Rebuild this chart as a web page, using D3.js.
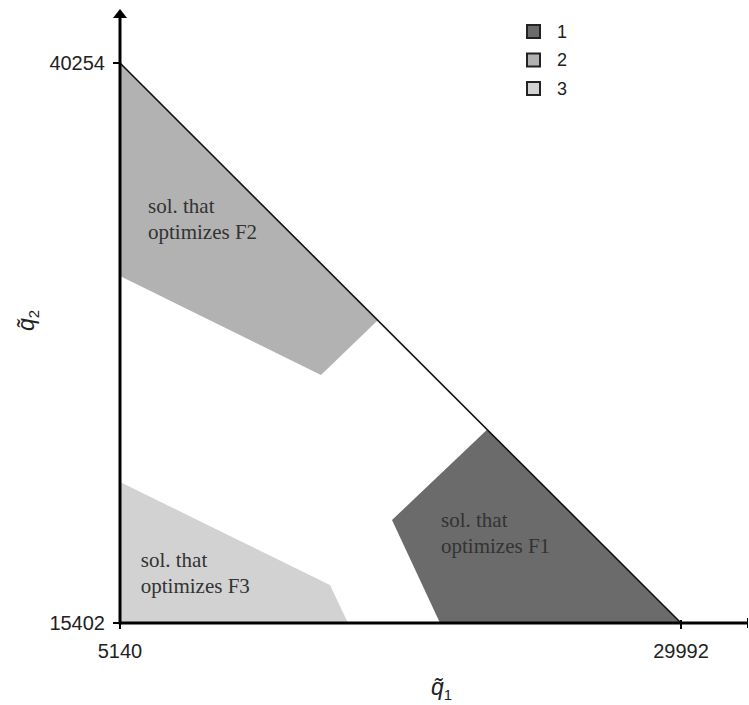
<!DOCTYPE html>
<html>
<head>
<meta charset="utf-8">
<script src="https://cdn.jsdelivr.net/npm/d3@7"></script>
<style>
  html, body { margin: 0; padding: 0; background: #fff; }
  svg { display: block; }
</style>
</head>
<body>
<svg id="chart" width="749" height="705"></svg>
<script>
// ---- data ----
const xTicks = [5140, 29992];
const yTicks = [15402, 40254];
const categories = ["1", "2", "3"];
const colors = ["#6b6b6b", "#b2b2b2", "#d2d2d2"];
// polygons (q1, q2)
const region1 = [[21410, 23984], [17190, 19973], [19316, 15402], [29992, 15402]];
const region2 = [[5140, 40254], [16560, 28834], [14044, 26408], [5140, 30802]];
const region3 = [[5140, 21660], [14443, 17088], [15240, 15402], [5140, 15402]];
const frontier = [[5140, 40254], [29992, 15402]];
const labelText = [["sol. that", "optimizes F1"], ["sol. that", "optimizes F2"], ["sol. that", "optimizes F3"]];
const labelPos = [[19360, 19662], [6380, 33598], [6060, 17908]]; // anchor (q1,q2) of first line baseline

// ---- layout ----
const svg = d3.select("#chart");
const x = d3.scaleLinear().domain([5140, 29992]).range([120, 681]);
const y = d3.scaleLinear().domain([15402, 40254]).range([623, 63]);

const line = d3.line().x(d => x(d[0])).y(d => y(d[1]));
const regions = [region1, region2, region3];

svg.selectAll("path.region").data(regions).enter().append("path")
  .attr("class", "region")
  .attr("d", d => line(d) + "Z")
  .attr("fill", (d, i) => colors[i])
  .attr("stroke", "none");

// frontier line
svg.append("path").attr("d", line(frontier))
  .attr("stroke", "#111").attr("stroke-width", 1.6).attr("fill", "none");

// region labels
labelText.forEach((lines, i) => {
  const t = svg.append("text")
    .attr("x", x(labelPos[i][0])).attr("y", y(labelPos[i][1]))
    .attr("font-family", "'Liberation Serif', 'Times New Roman', serif")
    .attr("font-size", 21).attr("fill", "#333");
  lines.forEach((s, j) => {
    t.append("tspan").attr("x", x(labelPos[i][0])).attr("dy", j === 0 ? 0 : 26).text(s);
  });
});

// axes
const x0 = x(5140), y0 = y(15402);
svg.append("line").attr("x1", x0).attr("x2", 748).attr("y1", y0).attr("y2", y0)
  .attr("stroke", "#000").attr("stroke-width", 3);
svg.append("line").attr("x1", x0).attr("x2", x0).attr("y1", y0 + 1.5).attr("y2", 14)
  .attr("stroke", "#000").attr("stroke-width", 3);
// arrow head on y axis
svg.append("path").attr("d", `M${x0},9 L${x0 - 7},18 L${x0 + 7},18 Z`).attr("fill", "#000");
// end tick on x axis
svg.append("line").attr("x1", 747.5).attr("x2", 747.5).attr("y1", y0 - 5).attr("y2", y0 + 5)
  .attr("stroke", "#000").attr("stroke-width", 1);

const tickFont = "'Liberation Sans', Arial, Helvetica, sans-serif";
// y ticks
yTicks.forEach(v => {
  svg.append("line").attr("x1", x0 - 7).attr("x2", x0).attr("y1", y(v)).attr("y2", y(v))
    .attr("stroke", "#000").attr("stroke-width", 2);
  svg.append("text").attr("x", x0 - 15).attr("y", y(v)).attr("dy", "0.36em")
    .attr("text-anchor", "end").attr("font-family", tickFont).attr("font-size", 20)
    .attr("fill", "#222").text(v);
});
// x ticks
xTicks.forEach(v => {
  svg.append("line").attr("x1", x(v)).attr("x2", x(v)).attr("y1", y0 - 3).attr("y2", y0 + 6)
    .attr("stroke", "#000").attr("stroke-width", 2);
  svg.append("text").attr("x", x(v)).attr("y", 658)
    .attr("text-anchor", "middle").attr("font-family", tickFont).attr("font-size", 20)
    .attr("fill", "#222").text(v);
});

// axis titles: q~1 and q~2 (q with combining tilde, numeric subscript)
function qLabel(g, sub) {
  const t = g.append("text").attr("x", 0).attr("y", 0)
    .attr("font-family", tickFont).attr("font-size", 23).attr("fill", "#222");
  t.append("tspan").attr("font-style", "italic").text("q\u0303");
  t.append("tspan").attr("font-size", 15).attr("dy", 5).text(sub);
}
qLabel(svg.append("g").attr("transform", "translate(431,695)"), "1");
qLabel(svg.append("g").attr("transform", "translate(34,331) rotate(-90)"), "2");

// legend
const legend = svg.append("g").attr("transform", "translate(527,25)");
categories.forEach((c, i) => {
  const gy = i * 28.5;
  legend.append("rect").attr("x", 0).attr("y", gy).attr("width", 13).attr("height", 13)
    .attr("fill", colors[i]).attr("stroke", "#222").attr("stroke-width", 2);
  legend.append("text").attr("x", 30).attr("y", gy + 6.5).attr("dy", "0.36em")
    .attr("font-family", tickFont).attr("font-size", 18).attr("fill", "#222").text(c);
});
</script>
</body>
</html>
